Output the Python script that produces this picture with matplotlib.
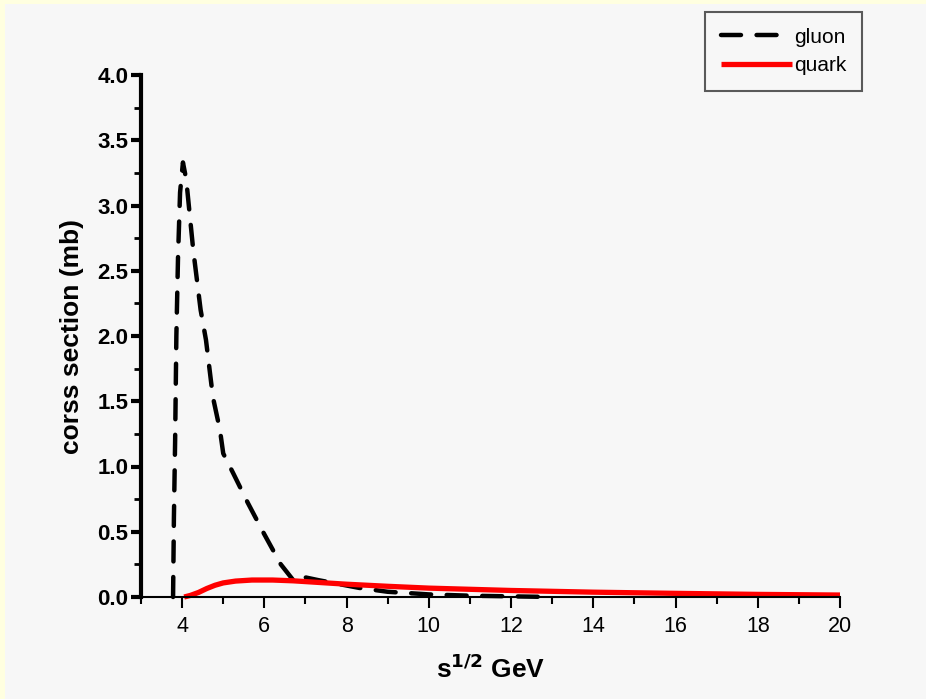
import numpy as np
import matplotlib.pyplot as plt
from matplotlib.patches import Rectangle
from matplotlib.ticker import MultipleLocator

plt.rcParams['font.family'] = ['Liberation Sans', 'DejaVu Sans']

############ data ############
gluon_x = [3.78, 3.80, 3.83, 3.86, 3.90, 3.95, 4.02, 4.10, 4.27, 4.45, 4.58,
           4.75, 4.92, 5.00, 5.24, 5.60, 6.00, 6.40, 6.75, 7.00, 7.30, 7.80,
           8.30, 9.00, 10.0, 11.0, 12.0, 13.0]
gluon_y = [0.0, 0.6, 1.2, 2.0, 2.6, 3.1, 3.33, 3.2, 2.66, 2.2, 1.97,
           1.53, 1.28, 1.10, 0.95, 0.72, 0.48, 0.25, 0.11, 0.15, 0.13, 0.10,
           0.07, 0.04, 0.02, 0.01, 0.005, 0.0]

quark_x = [4.05, 4.2, 4.4, 4.6, 4.8, 5.0, 5.3, 5.7, 6.2, 6.7, 7.0, 8.0, 9.0,
           10.0, 12.0, 14.0, 16.0, 18.0, 20.0]
quark_y = [0.0, 0.012, 0.035, 0.065, 0.09, 0.108, 0.122, 0.13, 0.13, 0.124,
           0.118, 0.098, 0.082, 0.068, 0.05, 0.037, 0.028, 0.02, 0.015]

x_ticks = [4, 6, 8, 10, 12, 14, 16, 18, 20]
y_ticks = [0.0, 0.5, 1.0, 1.5, 2.0, 2.5, 3.0, 3.5, 4.0]

############ figure ############
fig = plt.figure(figsize=(9.26, 6.99), dpi=100)
fig.patch.set_facecolor('#FFFFE0')
# grey panel inside the thin yellow border
fig.patches.append(Rectangle((5/926, 0), 1, 1 - 4/699, transform=fig.transFigure,
                             facecolor='#F7F7F7', edgecolor='none', zorder=-10))

ax = fig.add_axes([141/926, 1 - 597/699, (840 - 141)/926, (597 - 75)/699])
ax.set_facecolor('none')

ax.plot(gluon_x, gluon_y, color='black', lw=3.2, linestyle=(0, (4.5, 3.5)),
        dash_capstyle='round', label='gluon', clip_on=False)
ax.plot(quark_x, quark_y, color='#FF0000', lw=3.8, solid_capstyle='butt',
        label='quark', clip_on=False)

ax.set_xlim(3, 20)
ax.set_ylim(0, 4.0)

ax.xaxis.set_major_locator(plt.FixedLocator(x_ticks))
ax.xaxis.set_minor_locator(MultipleLocator(1))
ax.yaxis.set_major_locator(plt.FixedLocator(y_ticks))
ax.yaxis.set_minor_locator(MultipleLocator(0.25))
ax.set_yticklabels(['%.1f' % v for v in y_ticks], fontweight='bold')

for s in ['top', 'right']:
    ax.spines[s].set_visible(False)
ax.spines['left'].set_linewidth(3)
ax.spines['bottom'].set_linewidth(1.5)

ax.tick_params(axis='y', which='major', direction='out', length=7, width=3,
               labelsize=16, pad=2)
ax.tick_params(axis='y', which='minor', direction='out', length=5, width=2)
ax.tick_params(axis='x', which='major', direction='out', length=8, width=1.5,
               labelsize=15.5, pad=6)
ax.tick_params(axis='x', which='minor', direction='out', length=5, width=1.5)

ax.set_ylabel('corss section (mb)', fontsize=19, fontweight='bold', labelpad=10)
ax.set_xlabel(r's$^{\mathbf{1/2}}$ GeV', fontsize=19, fontweight='bold', labelpad=12)

leg = ax.legend(loc='upper right', bbox_to_anchor=(862/926, 1 - 12/699),
                bbox_transform=fig.transFigure, fontsize=15, frameon=True,
                fancybox=False, handlelength=3.4, handletextpad=0.1,
                borderpad=0.75, labelspacing=0.45, borderaxespad=0)
leg.get_frame().set_edgecolor('#333333')
leg.get_frame().set_linewidth(1.5)
leg.get_frame().set_facecolor('none')

fig.savefig('out.png', dpi=100, facecolor=fig.get_facecolor())
